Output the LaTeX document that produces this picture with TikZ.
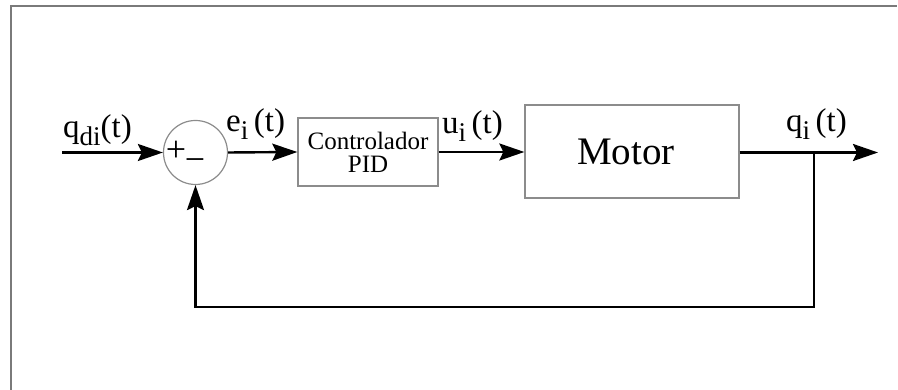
\documentclass[tikz,border=0pt]{standalone}
\usepackage{fontspec}
\setmainfont{Liberation Serif}
\usetikzlibrary{arrows.meta}
\definecolor{framegray}{HTML}{7A7A7A}
\definecolor{boxgray}{HTML}{8C8C8C}
% subscript that is lowered and only slightly reduced
\newcommand{\lowsub}[1]{\raisebox{-0.24em}{\fontsize{27}{27}\selectfont #1}}
\tikzset{
  blockbox/.style={draw=boxgray, line width=1.3pt, rectangle, inner sep=0pt},
  sumnode/.style={draw=boxgray, line width=1.2pt, circle, inner sep=0pt, minimum size=64pt},
  sig/.style={line width=2.4pt, black},
  sigarrow/.style={sig, -{Stealth[length=25pt, width=17pt, inset=4pt]}},
  siglabel/.style={anchor=base west, inner sep=0pt, font=\fontsize{33}{34}\selectfont},
  signs/.style={inner sep=0pt, font=\fontsize{36}{36}\selectfont},
}
\begin{document}
\begin{tikzpicture}[x=1pt, y=1pt]
  \useasboundingbox (0,0) rectangle (898,390);
  % frame lines
  \draw[framegray, line width=1.6pt] (11,0) -- (11,384) -- (897,384);

  % blocks
  \node[sumnode] (sum) at (195.5,237.5) {};
  \node[signs] (plus) at (176,239) {+};
  \node[signs] (minus) at (195,225) {\char"2212};
  \node[blockbox, minimum width=140pt, minimum height=68pt,
        align=center, font=\fontsize{25}{23}\selectfont] (pid) at (368,238)
        {Controlador\\PID};
  \node[blockbox, minimum width=214pt, minimum height=93pt,
        font=\fontsize{39}{40}\selectfont] (motor) at (632,238.5) {Motor\kern12pt};

  % free ends and corners of the loop
  \coordinate (in) at (62,237.5);
  \coordinate (out) at (878,237.5);
  \coordinate (branch) at (814,237.5);
  \coordinate (fbr) at (814,83);
  \coordinate (fbl) at (195.5,83);

  % signal paths
  \draw[sigarrow] (in) -- (sum.west);
  \draw[sigarrow] (sum.east) -- (pid.west);
  \draw[sigarrow] (pid.east) -- (pid.east -| motor.west);
  \draw[sigarrow] (motor.east |- out) -- (out);
  \draw[sigarrow] (branch) -- (fbr) -- (fbl) -- (sum.south);

  % signal labels
  \node[siglabel] (lq) at (63,252) {q\lowsub{di}(t)};
  \node[siglabel] (le) at (226,258) {e\lowsub{i}\,(t)};
  \node[siglabel] (lu) at (442,256) {u\lowsub{i}\,(t)};
  \node[siglabel] (lqi) at (786,258) {q\lowsub{i}\,(t)};
\end{tikzpicture}
\end{document}
